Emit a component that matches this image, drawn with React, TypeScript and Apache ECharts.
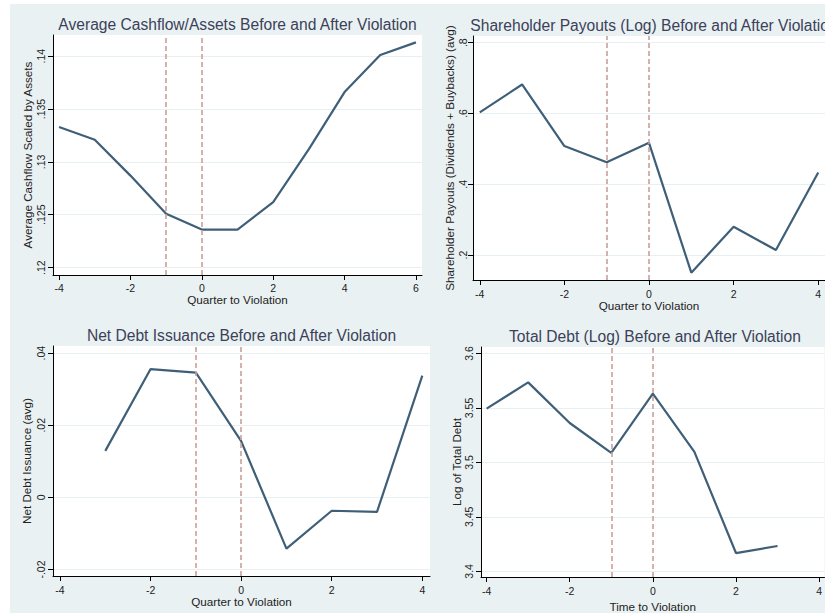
import React, { useEffect, useRef } from 'react';
import * as echarts from 'echarts';

// Panel 1: Average Cashflow/Assets
const cfQuarters = [-4, -3, -2, -1, 0, 1, 2, 3, 4, 5, 6];
const cashflow = [0.1333, 0.1321, 0.1287, 0.1251, 0.1236, 0.1236, 0.1262, 0.1312, 0.1366, 0.1401, 0.1413];
const cfYTicks = [0.12, 0.125, 0.13, 0.135, 0.14];
const cfXTicks = [-4, -2, 0, 2, 4, 6];

// Panel 2: Shareholder Payouts (Log)
const payQuarters = [-4, -3, -2, -1, 0, 1, 2, 3, 4];
const payouts = [0.603, 0.682, 0.508, 0.462, 0.517, 0.15, 0.28, 0.214, 0.433];
const payYTicks = [0.2, 0.4, 0.6, 0.8];

// Panel 3: Net Debt Issuance
const ndQuarters = [-3, -2, -1, 0, 1, 2, 3, 4];
const netDebt = [0.0129, 0.0356, 0.0346, 0.0156, -0.0142, -0.0037, -0.004, 0.0338];
const ndYTicks = [-0.02, 0, 0.02, 0.04];

// Panel 4: Total Debt (Log)
const tdQuarters = [-4, -3, -2, -1, 0, 1, 2, 3];
const totalDebt = [3.5494, 3.5735, 3.5362, 3.5088, 3.5631, 3.5097, 3.4168, 3.4233];
const tdYTicks = [3.4, 3.45, 3.5, 3.55, 3.6];

const xTicks = [-4, -2, 0, 2, 4];
const violationLines = [-1, 0];

const FONT = '"Liberation Sans", Arial, sans-serif';
const LINE = '#3f5f78';
const DASH = '#c9a19b';
const GRIDLINE = '#e6eff2';
const BG = '#eaf1f3';
const TITLE = '#3a4158';

const fmt = (v: number) => {
  let s = String(+Number(v).toFixed(4));
  s = s.replace(/^0\./, '.').replace(/^-0\./, '-.');
  return s;
};

function mkX(gridIndex: number, min: number, max: number, ticks: number[], name: string, nameGap: number, margin: number) {
  return {
    type: 'value',
    gridIndex,
    min,
    max,
    name,
    nameLocation: 'middle',
    nameGap,
    nameTextStyle: { fontFamily: FONT, fontSize: 11.7, color: '#222' },
    axisLine: { show: true, onZero: false, lineStyle: { color: '#000', width: 1 } },
    axisTick: { show: true, length: 5, customValues: ticks, lineStyle: { color: '#000' } },
    axisLabel: { customValues: ticks, formatter: fmt, fontFamily: FONT, fontSize: 10.5, color: '#222', margin },
    splitLine: { show: false },
  };
}

function mkY(gridIndex: number, min: number, max: number, ticks: number[], name: string, nameGap: number, margin: number) {
  return {
    type: 'value',
    gridIndex,
    min,
    max,
    name,
    nameLocation: 'middle',
    nameGap,
    nameTextStyle: { fontFamily: FONT, fontSize: 11.7, color: '#222' },
    axisLine: { show: true, onZero: false, lineStyle: { color: '#000', width: 1 } },
    axisTick: { show: true, length: 5, customValues: ticks, lineStyle: { color: '#000' } },
    axisLabel: { customValues: ticks, formatter: fmt, fontFamily: FONT, fontSize: 10.5, color: '#222', rotate: 90, margin },
    splitLine: { show: true, lineStyle: { color: GRIDLINE, width: 1 } },
  };
}

function mkSeries(idx: number, xs: number[], ys: number[]) {
  return {
    type: 'line',
    xAxisIndex: idx,
    yAxisIndex: idx,
    data: xs.map((x, i) => [x, ys[i]]),
    symbol: 'none',
    lineStyle: { color: LINE, width: 2.2 },
    markLine: {
      silent: true,
      symbol: ['none', 'none'],
      label: { show: false },
      lineStyle: { type: [5, 3], color: DASH, width: 1.6 },
      data: violationLines.map((v) => ({ xAxis: v })),
    },
    z: 3,
  };
}

function titleText(text: string, x: number, y: number) {
  return {
    type: 'text',
    x,
    y,
    style: {
      text,
      fill: TITLE,
      font: `15.6px ${FONT}`,
      textAlign: 'center',
      textVerticalAlign: 'middle',
    },
  };
}

export default function App() {
  const ref = useRef<HTMLDivElement>(null);
  useEffect(() => {
    if (!ref.current) return;
    const chart = echarts.init(ref.current, undefined, { renderer: 'svg' });
    const option = {
      animation: false,
      backgroundColor: BG,
      grid: [
        { left: 53, top: 35, width: 369, height: 240, show: true, backgroundColor: '#fff', borderWidth: 0 },
        { left: 473, top: 36, width: 356, height: 244, show: true, backgroundColor: '#fff', borderWidth: 0 },
        { left: 53, top: 346, width: 377, height: 230, show: true, backgroundColor: '#fff', borderWidth: 0 },
        { left: 481, top: 347, width: 348, height: 230, show: true, backgroundColor: '#fff', borderWidth: 0 },
      ],
      xAxis: [
        mkX(0, -4.17, 6.17, cfXTicks, 'Quarter to Violation', 15, 7),
        mkX(1, -4.16, 4.16, xTicks, 'Quarter to Violation', 17, 8),
        mkX(2, -4.155, 4.17, xTicks, 'Quarter to Violation', 14, 8),
        mkX(3, -4.135, 4.13, xTicks, 'Time to Violation', 23, 8),
      ],
      yAxis: [
        mkY(0, 0.1193, 0.142, cfYTicks, 'Average Cashflow Scaled by Assets', 20, 7),
        mkY(1, 0.1294, 0.819, payYTicks, 'Shareholder Payouts (Dividends + Buybacks) (avg)', 18, 5),
        mkY(2, -0.0218, 0.042, ndYTicks, 'Net Debt Issuance (avg)', 20.5, 7),
        mkY(3, 3.3948, 3.606, tdYTicks, 'Log of Total Debt', 18.5, 7),
      ],
      series: [
        mkSeries(0, cfQuarters, cashflow),
        mkSeries(1, payQuarters, payouts),
        mkSeries(2, ndQuarters, netDebt),
        mkSeries(3, tdQuarters, totalDebt),
      ],
      graphic: [
        { type: 'rect', shape: { x: 0, y: 0, width: 825, height: 4 }, style: { fill: '#fff' }, silent: true },
        { type: 'rect', shape: { x: 0, y: 0, width: 10, height: 613 }, style: { fill: '#fff' }, silent: true },
        titleText('Average Cashflow/Assets Before and After Violation', 237.5, 24),
        titleText('Shareholder Payouts (Log) Before and After Violation', 654, 25),
        titleText('Net Debt Issuance Before and After Violation', 241.5, 335),
        titleText('Total Debt (Log) Before and After Violation', 655, 336),
      ],
    };
    chart.setOption(option as any);
    return () => chart.dispose();
  }, []);
  return <div ref={ref} style={{ position: 'fixed', left: 0, top: 0, width: 825, height: 613 }} />;
}
